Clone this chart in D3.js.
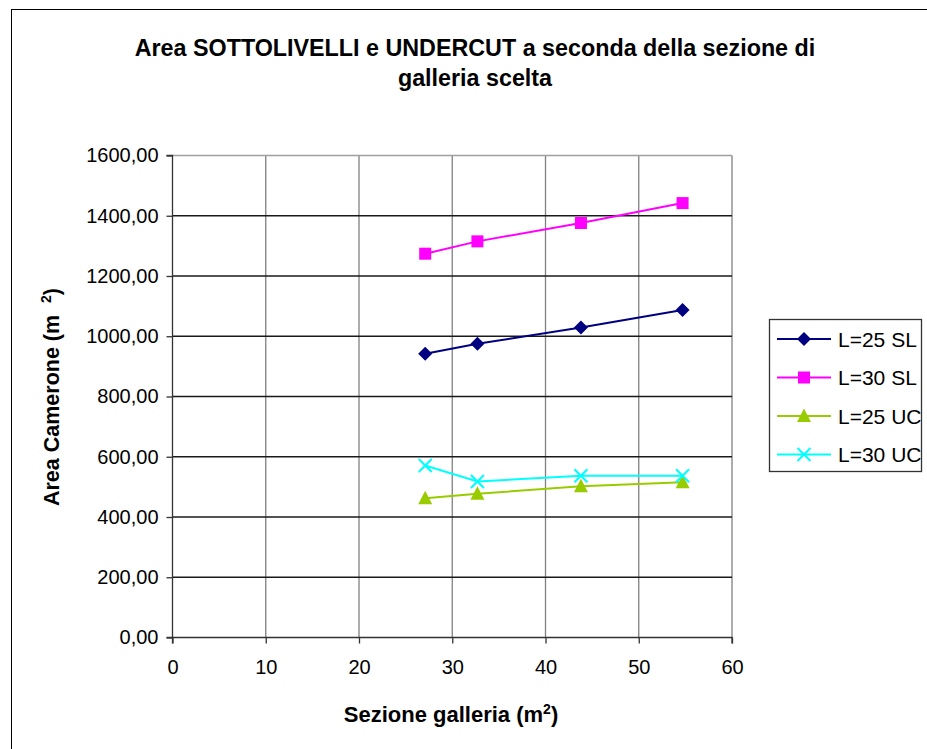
<!DOCTYPE html>
<html>
<head>
<meta charset="utf-8">
<script src="https://cdn.jsdelivr.net/npm/d3@7"></script>
<style>
  html, body { margin: 0; padding: 0; background: #fff; }
  svg { display: block; font-family: Arial, "Liberation Sans", sans-serif; }
</style>
</head>
<body>
<svg id="chart" width="927" height="749"></svg>
<script>
// Sezione galleria (m²) values and the corresponding area per series
const sezione = [27.1, 32.7, 43.8, 54.7];
const l25SL = [942, 975, 1029, 1087];
const l30SL = [1274, 1315, 1376, 1442];
const l25UC = [462, 477, 502, 515];
const l30UC = [571, 518, 537, 537];

const seriesNames = ["L=25 SL", "L=30 SL", "L=25 UC", "L=30 UC"];
const seriesColors = ["#000080", "#ff00ff", "#99cc00", "#00ffff"];
const seriesMarkers = ["diamond", "square", "triangle", "cross"];
const seriesValues = [l25SL, l30SL, l25UC, l30UC];

const xTicks = [0, 10, 20, 30, 40, 50, 60];
const yTicks = [0, 200, 400, 600, 800, 1000, 1200, 1400, 1600];

const svg = d3.select("#chart");

// outer chart frame
svg.append("rect")
  .attr("x", 11.5).attr("y", 9.5)
  .attr("width", 940).attr("height", 760)
  .attr("fill", "none").attr("stroke", "#000").attr("stroke-width", 1);

const plot = { left: 172.5, right: 732, top: 155.5, bottom: 637.5 };

const x = d3.scaleLinear().domain([0, 60]).range([plot.left, plot.right]);
const y = d3.scaleLinear().domain([0, 1600]).range([plot.bottom, plot.top]);

// gridlines
const grid = svg.append("g");
grid.selectAll("line.v").data(xTicks.slice(1)).join("line")
  .attr("x1", d => x(d)).attr("x2", d => x(d))
  .attr("y1", plot.top).attr("y2", plot.bottom)
  .attr("stroke", "#808080").attr("stroke-width", 1.3);
grid.selectAll("line.h").data(yTicks.slice(1)).join("line")
  .attr("x1", plot.left).attr("x2", plot.right)
  .attr("y1", d => y(d)).attr("y2", d => y(d))
  .attr("stroke", d => d === 1600 ? "#a0a0a0" : "#1a1a1a").attr("stroke-width", 1.3);

// axes
const fmt = d => d3.format(".2f")(d).replace(".", ",");
const yAxis = svg.append("g")
  .attr("transform", `translate(${plot.left},0)`)
  .call(d3.axisLeft(y).tickValues(yTicks).tickFormat(fmt).tickSize(6).tickPadding(8));
const xAxis = svg.append("g")
  .attr("transform", `translate(0,${plot.bottom})`)
  .call(d3.axisBottom(x).tickValues(xTicks).tickFormat(d3.format("d")).tickSize(6).tickPadding(16));

[yAxis, xAxis].forEach(a => {
  a.select(".domain").attr("stroke", "#333").attr("stroke-width", 1.3);
  a.selectAll(".tick line").attr("stroke", "#333").attr("stroke-width", 1.3);
  a.selectAll(".tick text").attr("font-size", 20).attr("fill", "#000")
    .attr("font-family", "Arial, 'Liberation Sans', sans-serif");
});
xAxis.select(".domain").attr("d", `M${plot.left},6V0H${plot.right}V6`);
yAxis.select(".domain").attr("d", `M-6,${plot.top}H0V${plot.bottom}H-6`);

// series lines and markers
const line = d3.line().x(d => x(d[0])).y(d => y(d[1]));

function marker(g, type, color, cx, cy) {
  if (type === "diamond") {
    g.append("path").attr("d", `M${cx},${cy - 7}L${cx + 7},${cy}L${cx},${cy + 7}L${cx - 7},${cy}Z`)
      .attr("fill", color);
  } else if (type === "square") {
    g.append("rect").attr("x", cx - 6).attr("y", cy - 6).attr("width", 12).attr("height", 12)
      .attr("fill", color);
  } else if (type === "triangle") {
    g.append("path").attr("d", `M${cx},${cy - 7.5}L${cx + 7},${cy + 6}L${cx - 7},${cy + 6}Z`)
      .attr("fill", color);
  } else if (type === "cross") {
    g.append("path").attr("d", `M${cx - 6.5},${cy - 6.5}L${cx + 6.5},${cy + 6.5}M${cx + 6.5},${cy - 6.5}L${cx - 6.5},${cy + 6.5}`)
      .attr("stroke", color).attr("stroke-width", 2).attr("fill", "none");
  }
}

seriesValues.forEach((vals, i) => {
  const pts = sezione.map((s, j) => [s, vals[j]]);
  const g = svg.append("g");
  g.append("path").datum(pts).attr("d", line)
    .attr("fill", "none").attr("stroke", seriesColors[i]).attr("stroke-width", 2);
  pts.forEach(p => marker(g, seriesMarkers[i], seriesColors[i], x(p[0]), y(p[1])));
});

// legend
const legend = svg.append("g");
legend.append("rect").attr("x", 769.5).attr("y", 319.5).attr("width", 152).attr("height", 152)
  .attr("fill", "#fff").attr("stroke", "#333").attr("stroke-width", 1.3);
seriesNames.forEach((name, i) => {
  const ly = 339 + i * 38.5;
  const lg = legend.append("g");
  lg.append("line").attr("x1", 777).attr("x2", 831).attr("y1", ly).attr("y2", ly)
    .attr("stroke", seriesColors[i]).attr("stroke-width", 2);
  marker(lg, seriesMarkers[i], seriesColors[i], 804, ly);
  lg.append("text").attr("x", 838).attr("y", ly).attr("dy", "0.36em")
    .attr("font-size", 21).text(name);
});

// title
const title = svg.append("text").attr("text-anchor", "middle")
  .attr("font-size", 23.3).attr("font-weight", "bold");
title.append("tspan").attr("x", 475).attr("y", 56)
  .text("Area SOTTOLIVELLI e UNDERCUT a seconda della sezione di");
title.append("tspan").attr("x", 475).attr("y", 86).text("galleria scelta");

// axis titles
const xt = svg.append("text").attr("x", 451).attr("y", 722).attr("text-anchor", "middle")
  .attr("font-size", 22).attr("font-weight", "bold");
xt.append("tspan").text("Sezione galleria (m");
xt.append("tspan").attr("font-size", 14).attr("dy", -8).text("2");
xt.append("tspan").attr("dy", 8).text(")");

const yt = svg.append("text").attr("transform", "translate(59,397) rotate(-90)")
  .attr("text-anchor", "middle").attr("font-size", 21.5).attr("font-weight", "bold");
yt.append("tspan").text("Area Camerone (m\u00a0\u00a0");
yt.append("tspan").attr("font-size", 14).attr("dy", -8).text("2");
yt.append("tspan").attr("dy", 8).text(")");
</script>
</body>
</html>
